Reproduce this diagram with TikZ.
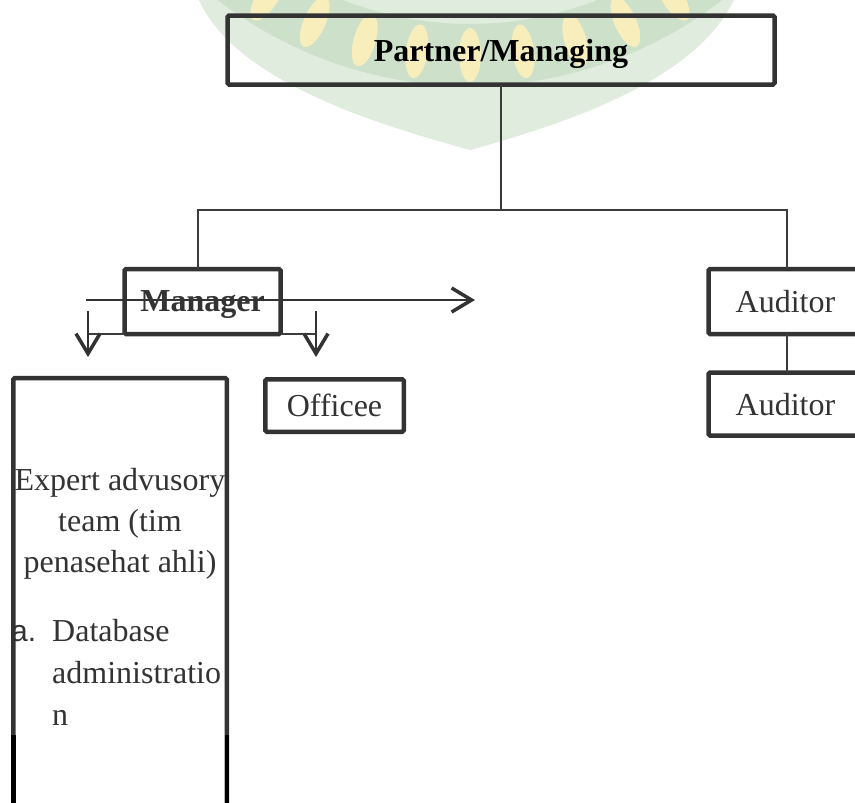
\documentclass[tikz,border=0pt]{standalone}
\usepackage{fontspec}
\setmainfont{Liberation Serif}
\newfontfamily\sansa{Liberation Sans}
\usetikzlibrary{arrows.meta}
\definecolor{boxgray}{HTML}{333333}
\definecolor{linegray}{HTML}{3c3c3c}
\definecolor{wmgreen}{RGB}{224,236,222}
\definecolor{wmband}{RGB}{204,224,202}
\definecolor{wmyellow}{RGB}{248,238,188}

\begin{document}
\begin{tikzpicture}[x=1pt,y=-1pt,
    orgbox/.style={draw=boxgray,line width=4.5pt,rounded corners=1.5pt,inner sep=0pt,outer sep=0pt,
      text=boxgray,text depth=0pt,font=\fontsize{32}{40}\selectfont},
    link/.style={draw=linegray,line width=1.8pt},
    chevron/.style={draw=boxgray,line width=2.2pt,-{Straight Barb[length=20pt,width=24pt,line width=3.5pt]}},
    txt/.style={text=boxgray,inner sep=0pt,anchor=base,font=\fontsize{32}{40}\selectfont}]
    \useasboundingbox (0,0) rectangle (855,803);
    \fill[white] (0,0) rectangle (855,803);

    \begin{scope}
        \clip (195,-10) .. controls (225,80) and (380,125) .. (470,150) .. controls (560,125) and (705,80) .. (738,-10) -- cycle;
        \fill[wmgreen] (0,0) rectangle (855,200);
        \draw[wmband,line width=62pt] plot[domain=-40:40,smooth] ({470+382*sin(\x)},{-327+382*cos(\x)});
        \foreach \a in {-32,-24,...,32}
            \fill[wmyellow,shift={({470+382*sin(\a)},{-327+382*cos(\a)})},rotate=\a] (0,0) ellipse (11 and 27);
    \end{scope}

    \node[orgbox,minimum width=547pt,minimum height=69pt,text=black,font=\fontsize{32}{40}\selectfont\bfseries] (partner) at (501,50) {Partner/Managing};
    \node[orgbox,minimum width=156pt,minimum height=65pt,font=\fontsize{32}{40}\selectfont\bfseries] (manager) at (202.5,301.5) {Manager};
    \node[orgbox,minimum width=154pt,minimum height=65pt] (auditora) at (785.5,301.5) {Auditor};
    \node[orgbox,minimum width=154pt,minimum height=63pt] (auditorb) at (785.5,404) {Auditor};
    \node[orgbox,minimum width=138.5pt,minimum height=52.5pt] (officee) at (334.5,405.5) {Officee};
    \node[orgbox,minimum width=213.5pt,minimum height=480pt] (expert) at (120,618) {};
    \draw[line width=4.5pt] (13.25,735) -- (13.25,810);
    \draw[line width=4.5pt] (226.75,735) -- (226.75,810);

    \node[txt] (expa) at (120,490) {Expert advusory};
    \node[txt] (expb) at (120,531) {team (tim};
    \node[txt] (expc) at (120,572) {penasehat ahli)};
    \node[txt,anchor=base west,font=\fontsize{30}{40}\sansa] (itema) at (11,641) {a.};
    \node[txt,anchor=base west] (itemb) at (52,641) {Database};
    \node[txt,anchor=base west] (itemc) at (52,683) {administratio};
    \node[txt,anchor=base west] (itemd) at (52,725) {n};

    \coordinate (busl) at (198,210);
    \coordinate (busr) at (787,210);
    \draw[link] (partner.south) -- (partner.south |- busl);
    \draw[link] (manager.north -| busl) -- (busl) -- (busr) -- (auditora.north -| busr);
    \draw[link] (auditora.south -| busr) -- (auditorb.north -| busr);

    \coordinate (dropl) at (88,311);
    \coordinate (dropr) at (316,311);
    \draw[link] (manager.south west) -- (manager.south west -| dropl);
    \draw[link] (manager.south east) -- (manager.south east -| dropr);
    \draw[chevron] (dropl) -- ++(0,46);
    \draw[chevron] (dropr) -- ++(0,46);

    \coordinate (flowa) at (86,300);
    \coordinate (flowb) at (475,300);
    \draw[chevron] (flowa) -- (flowb);
\end{tikzpicture}
\end{document}
